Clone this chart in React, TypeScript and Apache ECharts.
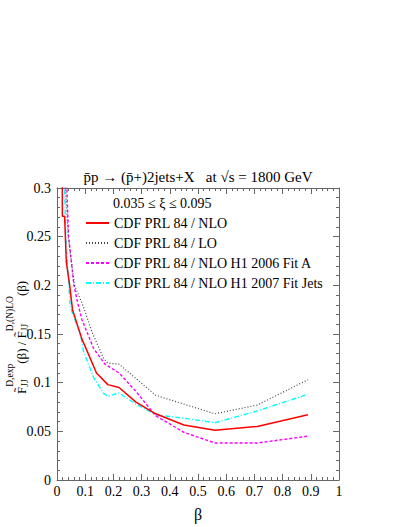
import React, { useEffect, useRef } from "react";
import * as echarts from "echarts";

const FONT = '"Liberation Serif", "Times New Roman", Times, serif';

// [beta, ratio] pairs
const nloData: number[][] = [
  [0.018, 0.4], [0.019, 0.271], [0.027, 0.271], [0.033, 0.224], [0.045, 0.2],
  [0.055, 0.175], [0.088, 0.145], [0.1, 0.137], [0.14, 0.11], [0.18, 0.098],
  [0.22, 0.095], [0.28, 0.08], [0.35, 0.068], [0.45, 0.0565], [0.56, 0.051],
  [0.71, 0.055], [0.89, 0.067],
];
const loData: number[][] = [
  [0.025, 0.36], [0.03, 0.3], [0.04, 0.25], [0.062, 0.2], [0.094, 0.178],
  [0.124, 0.152], [0.165, 0.125], [0.18, 0.12], [0.22, 0.119], [0.35, 0.087],
  [0.45, 0.078], [0.56, 0.068], [0.71, 0.077], [0.89, 0.103],
];
const fitAData: number[][] = [
  [0.03, 0.36], [0.035, 0.3], [0.041, 0.25], [0.06, 0.2], [0.071, 0.185],
  [0.088, 0.165], [0.13, 0.135], [0.17, 0.119], [0.22, 0.11], [0.28, 0.091],
  [0.35, 0.066], [0.45, 0.049], [0.56, 0.038], [0.71, 0.038], [0.89, 0.045],
];
const fitJetsData: number[][] = [
  [0.022, 0.36], [0.027, 0.3], [0.031, 0.25], [0.047, 0.178], [0.059, 0.168],
  [0.083, 0.15], [0.094, 0.132], [0.13, 0.105], [0.165, 0.089], [0.18, 0.086],
  [0.22, 0.0894], [0.28, 0.078], [0.35, 0.067], [0.45, 0.0635], [0.56, 0.0588],
  [0.71, 0.071], [0.89, 0.088],
];

const seriesNames = [
  "CDF PRL 84 / NLO",
  "CDF PRL 84 / LO",
  "CDF PRL 84 / NLO H1 2006 Fit A",
  "CDF PRL 84 / NLO H1 2007 Fit Jets",
];

const titleText = "p\u0304p \u2192 (p\u0304+)2jets+X   at \u221As = 1800 GeV";
const rangeText = "0.035 \u2264 \u03BE \u2264 0.095";

const fmt = (v: number) => String(+v.toFixed(3));

function measure(text: string, size: number): number {
  const c = document.createElement("canvas").getContext("2d");
  if (!c) return text.length * size * 0.5;
  c.font = `${size}px ${FONT}`;
  return c.measureText(text).width;
}

function buildYLabel(): any {
  const main = 13;
  const small = 9.5;
  const children: any[] = [];
  let x = 0;
  const addMain = (t: string) => {
    children.push({
      type: "text", x, y: 0,
      style: { text: t, font: `${main}px ${FONT}`, fill: "#000", align: "left", verticalAlign: "middle" },
    });
    x += measure(t, main);
  };
  const addSupSub = (sup: string, sub: string) => {
    children.push({
      type: "text", x, y: -11,
      style: { text: sup, font: `${small}px ${FONT}`, fill: "#000", align: "left", verticalAlign: "middle" },
    });
    children.push({
      type: "text", x, y: 4,
      style: { text: sub, font: `${small}px ${FONT}`, fill: "#000", align: "left", verticalAlign: "middle" },
    });
    x += Math.max(measure(sup, small), measure(sub, small));
  };
  addMain("F\u0303");
  addSupSub("D,exp", "JJ");
  addMain("(\u03B2) / F\u0303");
  addSupSub("D,(N)LO", "JJ");
  addMain("(\u03B2)");
  return { type: "group", x: 21, y: 394, rotation: Math.PI / 2, children };
}

const axisColor = "#666";

function makeX(pos: "bottom" | "top", labels: boolean): any {
  return {
    type: "value", position: pos, min: 0, max: 1, interval: 0.1,
    axisLine: { show: true, onZero: false, lineStyle: { color: axisColor, width: 1 } },
    axisTick: { show: true, inside: true, length: 6, lineStyle: { color: axisColor } },
    minorTick: { show: true, splitNumber: 5, length: 3, lineStyle: { color: axisColor } },
    splitLine: { show: false },
    axisLabel: { show: labels, fontFamily: FONT, fontSize: 14, color: "#000", margin: 4, formatter: fmt },
    ...(labels
      ? { name: "\u03B2", nameLocation: "middle", nameGap: 26, nameTextStyle: { fontFamily: FONT, fontSize: 16, color: "#000" } }
      : {}),
  };
}
function makeY(pos: "left" | "right", labels: boolean): any {
  return {
    type: "value", position: pos, min: 0, max: 0.3, interval: 0.05,
    axisLine: { show: true, onZero: false, lineStyle: { color: axisColor, width: 1 } },
    axisTick: { show: true, inside: true, length: 6, lineStyle: { color: axisColor } },
    minorTick: { show: true, splitNumber: 5, length: 3, lineStyle: { color: axisColor } },
    splitLine: { show: false },
    axisLabel: { show: labels, fontFamily: FONT, fontSize: 14, color: "#000", margin: 6, formatter: fmt },
  };
}

export default function App() {
  const ref = useRef<HTMLDivElement>(null);
  useEffect(() => {
    if (!ref.current) return;
    const chart = echarts.init(ref.current, undefined, { renderer: "svg" });
    const styles = [
      { color: "#ff0000", width: 1.5, type: "solid" as any },
      { color: "#444444", width: 1.2, type: [1, 2] as any },
      { color: "#ff00ff", width: 1.4, type: [3, 2] as any },
      { color: "#00ffff", width: 1.4, type: [5, 2, 1, 2] as any },
    ];
    const datasets = [nloData, loData, fitAData, fitJetsData];
    chart.setOption({
      animation: false,
      backgroundColor: "#fff",
      grid: { left: 57, right: 68, top: 188, bottom: 38, containLabel: false },
      xAxis: [makeX("bottom", true), makeX("top", false)],
      yAxis: [makeY("left", true), makeY("right", false)],
      legend: {
        orient: "vertical", left: 85, top: 216, padding: 0,
        itemWidth: 23, itemHeight: 14, itemGap: 6,
        data: seriesNames,
        itemStyle: { opacity: 0 },
        textStyle: { fontFamily: FONT, fontSize: 14, color: "#000" },
        selectedMode: false,
      },
      series: datasets.map((d, i) => ({
        type: "line", name: seriesNames[i], data: d,
        xAxisIndex: 0, yAxisIndex: 0,
        symbol: "none", showSymbol: false, clip: true,
        lineStyle: styles[i], itemStyle: { color: styles[i].color },
        z: 4 - i,
      })),
      graphic: [
        {
          type: "text", x: 198, y: 177,
          style: { text: titleText, font: `15px ${FONT}`, fill: "#000", align: "center", verticalAlign: "middle" },
        },
        {
          type: "text", x: 113, y: 203,
          style: { text: rangeText, font: `14px ${FONT}`, fill: "#000", align: "left", verticalAlign: "middle" },
        },
        buildYLabel(),
      ],
    });
    return () => chart.dispose();
  }, []);
  return <div ref={ref} style={{ width: 407, height: 527, position: "absolute", left: 0, top: 0 }} />;
}
